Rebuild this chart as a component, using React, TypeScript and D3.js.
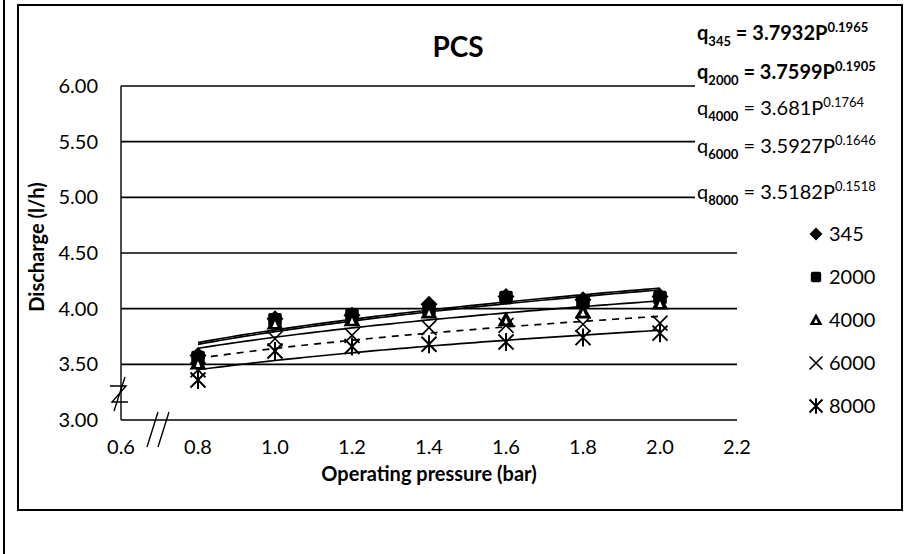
import React, { useEffect, useRef } from "react";
import * as d3 from "d3";

const pressures = [0.8, 1.0, 1.2, 1.4, 1.6, 1.8, 2.0];
const q345 = [3.58, 3.91, 3.94, 4.04, 4.11, 4.08, 4.11];
const q2000 = [3.56, 3.9, 3.94, 4.0, 4.1, 4.06, 4.1];
const q4000 = [3.51, 3.87, 3.9, 3.97, 3.9, 3.97, 4.05];
const q6000 = [3.45, 3.73, 3.76, 3.83, 3.85, 3.86, 3.87];
const q8000 = [3.36, 3.62, 3.66, 3.68, 3.7, 3.74, 3.78];

const seriesNames = ["345", "2000", "4000", "6000", "8000"];
const seriesValues = [q345, q2000, q4000, q6000, q8000];
const markerShapes = ["diamond", "square", "triangle", "cross", "star"];
const dashed = [false, false, false, true, false];

const xTicks = [0.6, 0.8, 1.0, 1.2, 1.4, 1.6, 1.8, 2.0, 2.2];
const yTicks = [3.0, 3.5, 4.0, 4.5, 5.0, 5.5, 6.0];

const equations = [
  { sub: "345", coef: "3.7932", exp: "0.1965", bold: true },
  { sub: "2000", coef: "3.7599", exp: "0.1905", bold: true },
  { sub: "4000", coef: "3.681", exp: "0.1764", bold: false },
  { sub: "6000", coef: "3.5927", exp: "0.1646", bold: false },
  { sub: "8000", coef: "3.5182", exp: "0.1518", bold: false },
];

const W = 916;
const H = 554;
const font = "Lato, 'Open Sans', sans-serif";

// power trendline like Excel: ln(y) = ln(a) + b ln(x)
function powerFit(xs: number[], ys: number[]) {
  const lx = xs.map(Math.log);
  const ly = ys.map(Math.log);
  const mx = d3.mean(lx) as number;
  const my = d3.mean(ly) as number;
  let num = 0;
  let den = 0;
  lx.forEach((v, i) => {
    num += (v - mx) * (ly[i] - my);
    den += (v - mx) * (v - mx);
  });
  const b = num / den;
  const a = Math.exp(my - b * mx);
  return (x: number) => a * Math.pow(x, b);
}

function drawMarker(g: any, shape: string, x: number, y: number, s: number) {
  if (shape === "diamond") {
    g.append("path")
      .attr("d", `M${x},${y - s}L${x + s},${y}L${x},${y + s}L${x - s},${y}Z`)
      .attr("fill", "#000");
  } else if (shape === "square") {
    g.append("rect")
      .attr("x", x - s * 0.8).attr("y", y - s * 0.8)
      .attr("width", s * 1.6).attr("height", s * 1.6)
      .attr("rx", 2)
      .attr("fill", "#000");
  } else if (shape === "triangle") {
    g.append("path")
      .attr("d", `M${x},${y - s}L${x + s},${y + s * 0.75}L${x - s},${y + s * 0.75}Z`)
      .attr("fill", "#000");
    g.append("path")
      .attr("d", `M${x},${y - s * 0.25}L${x + s * 0.3},${y + s * 0.45}L${x - s * 0.3},${y + s * 0.45}Z`)
      .attr("fill", "#fff");
  } else if (shape === "cross") {
    g.append("path")
      .attr("d", `M${x - s},${y - s}L${x + s},${y + s}M${x + s},${y - s}L${x - s},${y + s}`)
      .attr("stroke", "#000").attr("stroke-width", 1.6).attr("fill", "none");
  } else {
    g.append("path")
      .attr("d", `M${x - s},${y - s}L${x + s},${y + s}M${x + s},${y - s}L${x - s},${y + s}M${x},${y - s * 1.2}L${x},${y + s * 1.2}`)
      .attr("stroke", "#000").attr("stroke-width", 2).attr("fill", "none");
  }
}

export default function App() {
  const ref = useRef<SVGSVGElement>(null);

  useEffect(() => {
    const svg = d3.select(ref.current);
    svg.selectAll("*").remove();

    const left = 121;
    const right = 737;
    const top = 86;
    const bottom = 420;

    const x = d3.scaleLinear().domain([0.6, 2.2]).range([left, right]);
    const y = d3.scaleLinear().domain([3, 6]).range([bottom, top]);

    // outer frame
    svg.append("line").attr("x1", 4).attr("x2", 4).attr("y1", 0).attr("y2", H)
      .attr("stroke", "#000").attr("stroke-width", 2);
    svg.append("rect").attr("x", 18).attr("y", 5).attr("width", 884).attr("height", 505)
      .attr("fill", "none").attr("stroke", "#000").attr("stroke-width", 2);

    // gridlines
    svg.append("g").selectAll("line").data(yTicks).join("line")
      .attr("x1", left).attr("x2", right)
      .attr("y1", (d) => y(d)).attr("y2", (d) => y(d))
      .attr("stroke", "#000").attr("stroke-width", 1.6);
    svg.append("line").attr("x1", left).attr("x2", left).attr("y1", top).attr("y2", bottom)
      .attr("stroke", "#000").attr("stroke-width", 1.4);

    // y tick labels
    svg.append("g").selectAll("text").data(yTicks).join("text")
      .attr("x", 98).attr("y", (d) => y(d) + 7)
      .attr("text-anchor", "end")
      .attr("font-family", font).attr("font-size", 20)
      .text((d) => d3.format(".2f")(d));

    // x tick labels
    svg.append("g").selectAll("text").data(xTicks).join("text")
      .attr("x", (d) => x(d)).attr("y", 454)
      .attr("text-anchor", "middle")
      .attr("font-family", font).attr("font-size", 20)
      .text((d) => d3.format(".1f")(d));

    // axis break marks
    svg.append("path")
      .attr("d", "M110,386L126,386L112,402L128,402M114,411L125,377")
      .attr("fill", "none").attr("stroke", "#000").attr("stroke-width", 1.4);
    svg.append("path")
      .attr("d", "M147,447L158,412M158,447L169,412")
      .attr("fill", "none").attr("stroke", "#000").attr("stroke-width", 1.4);

    // titles
    svg.append("text").attr("x", 458).attr("y", 57).attr("text-anchor", "middle")
      .attr("font-family", font).attr("font-weight", "bold").attr("font-size", 28).text("PCS");
    svg.append("text").attr("x", 429).attr("y", 481).attr("text-anchor", "middle")
      .attr("font-family", font).attr("font-weight", "bold").attr("font-size", 20)
      .text("Operating pressure (bar)");
    svg.append("text")
      .attr("transform", "translate(44,247) rotate(-90)")
      .attr("text-anchor", "middle")
      .attr("font-family", font).attr("font-weight", "bold").attr("font-size", 20)
      .text("Discharge (l/h)");

    // trendlines
    const lineGen = d3.line<[number, number]>().x((d) => x(d[0])).y((d) => y(d[1]));
    const xs = d3.range(0, 61).map((i) => 0.8 + (1.2 * i) / 60);
    seriesValues.forEach((vals, si) => {
      const f = powerFit(pressures, vals);
      svg.append("path")
        .datum(xs.map((v) => [v, f(v)] as [number, number]))
        .attr("d", lineGen)
        .attr("fill", "none").attr("stroke", "#000").attr("stroke-width", 1.7)
        .attr("stroke-dasharray", dashed[si] ? "7,6" : null);
    });

    // markers
    const mg = svg.append("g");
    seriesValues.forEach((vals, si) => {
      vals.forEach((v, i) =>
        drawMarker(mg, markerShapes[si], x(pressures[i]), y(v), si < 3 ? 8.5 : 7.5)
      );
    });

    // equations (white boxes hide gridlines behind them)
    const eqY = [40, 79, 115, 153, 199];
    const eg = svg.append("g");
    equations.forEach((e, i) => {
      const box = eg.append("rect").attr("fill", "#fff");
      const t = eg.append("text").attr("x", 697).attr("y", eqY[i])
        .attr("font-family", font).attr("font-size", 20)
        .attr("font-weight", e.bold ? "bold" : "normal");
      t.append("tspan").text("q");
      t.append("tspan").attr("font-size", 13).attr("dy", 6).attr("font-weight", "bold").text(e.sub);
      t.append("tspan").attr("dy", -6).text(` = ${e.coef}P`);
      t.append("tspan").attr("font-size", 13).attr("dy", -8).text(e.exp);
      const bb = (t.node() as SVGTextElement).getBBox();
      box.attr("x", bb.x - 2).attr("y", bb.y + 2).attr("width", bb.width + 4).attr("height", bb.height - 2);
    });

    // legend
    const lg = svg.append("g");
    seriesNames.forEach((n, i) => {
      const ly = 234 + i * 43;
      drawMarker(lg, markerShapes[i], 816, ly, 6.5);
      lg.append("text").attr("x", 829).attr("y", ly + 7)
        .attr("font-family", font).attr("font-size", 20).text(n);
    });
  }, []);

  return (
    <svg ref={ref} width={W} height={H} style={{ position: "absolute", left: 0, top: 0, background: "#fff" }} />
  );
}
